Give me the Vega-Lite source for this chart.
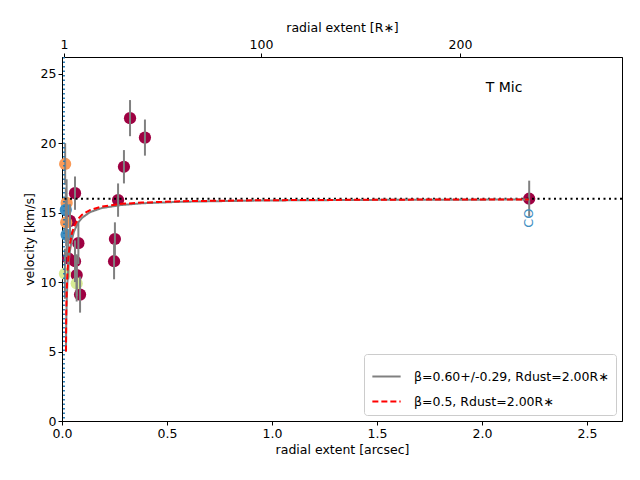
{
  "$schema": "https://vega.github.io/schema/vega-lite/v6.json",
  "width": 560,
  "height": 364,
  "autosize": "none",
  "padding": {"left": 62, "top": 57, "right": 18, "bottom": 59},
  "background": "white",
  "config": {
    "font": "DejaVu Sans",
    "view": {"stroke": "black", "strokeWidth": 1},
    "axis": {
      "domainColor": "black", "tickColor": "black", "labelColor": "black", "titleColor": "black",
      "labelFontSize": 12.5, "titleFontSize": 12.5, "titleFontWeight": "normal", "tickSize": 4,
      "grid": false, "labelFont": "DejaVu Sans", "titleFont": "DejaVu Sans", "labelFlush": false
    },
    "legend": {"labelFont": "DejaVu Sans", "labelFontSize": 12.5}
  },
  "datasets": {
    "obs": [
      {"a": 0.324, "v": 21.8, "lo": 20.5, "hi": 23.1, "grp": "m"},
      {"a": 0.395, "v": 20.4, "lo": 19.1, "hi": 21.7, "grp": "m"},
      {"a": 0.295, "v": 18.3, "lo": 17.1, "hi": 19.5, "grp": "m"},
      {"a": 0.267, "v": 15.9, "lo": 14.7, "hi": 17.1, "grp": "m"},
      {"a": 0.252, "v": 13.1, "lo": 11.9, "hi": 14.3, "grp": "m"},
      {"a": 0.248, "v": 11.5, "lo": 10.2, "hi": 12.8, "grp": "m"},
      {"a": 0.062, "v": 16.4, "lo": 15.2, "hi": 17.6, "grp": "m"},
      {"a": 2.225, "v": 16.0, "lo": 14.7, "hi": 17.3, "grp": "m"},
      {"a": 0.038, "v": 14.4, "lo": 13.2, "hi": 15.6, "grp": "m"},
      {"a": 0.078, "v": 12.8, "lo": 11.3, "hi": 14.3, "grp": "m"},
      {"a": 0.030, "v": 11.7, "lo": 10.2, "hi": 13.2, "grp": "m"},
      {"a": 0.062, "v": 11.5, "lo": 10.0, "hi": 13.0, "grp": "m"},
      {"a": 0.070, "v": 10.5, "lo": 9.0, "hi": 12.0, "grp": "m"},
      {"a": 0.086, "v": 9.1, "lo": 7.8, "hi": 10.4, "grp": "m"},
      {"a": 0.015, "v": 18.5, "lo": 17.0, "hi": 20.0, "grp": "o"},
      {"a": 0.022, "v": 15.7, "lo": 14.0, "hi": 17.4, "grp": "o"},
      {"a": 0.020, "v": 14.3, "lo": 12.6, "hi": 16.0, "grp": "o"},
      {"a": 0.018, "v": 15.2, "lo": 13.6, "hi": 16.8, "grp": "b"},
      {"a": 0.022, "v": 13.4, "lo": 11.8, "hi": 15.0, "grp": "b"},
      {"a": 0.014, "v": 10.6, "lo": 8.8, "hi": 12.4, "grp": "g"},
      {"a": 0.070, "v": 9.9, "lo": 8.6, "hi": 11.2, "grp": "g"}
    ],
    "curves": [
      {"a": 0.019, "v": 5.0, "model": "fit"},
      {"a": 0.01995, "v": 6.77, "model": "fit"},
      {"a": 0.0209, "v": 7.61, "model": "fit"},
      {"a": 0.0228, "v": 8.75, "model": "fit"},
      {"a": 0.02565, "v": 9.89, "model": "fit"},
      {"a": 0.0285, "v": 10.69, "model": "fit"},
      {"a": 0.03325, "v": 11.62, "model": "fit"},
      {"a": 0.038, "v": 12.26, "model": "fit"},
      {"a": 0.0475, "v": 13.10, "model": "fit"},
      {"a": 0.057, "v": 13.63, "model": "fit"},
      {"a": 0.076, "v": 14.26, "model": "fit"},
      {"a": 0.095, "v": 14.62, "model": "fit"},
      {"a": 0.133, "v": 15.03, "model": "fit"},
      {"a": 0.19, "v": 15.33, "model": "fit"},
      {"a": 0.285, "v": 15.55, "model": "fit"},
      {"a": 0.38, "v": 15.67, "model": "fit"},
      {"a": 0.57, "v": 15.78, "model": "fit"},
      {"a": 0.95, "v": 15.87, "model": "fit"},
      {"a": 1.52, "v": 15.92, "model": "fit"},
      {"a": 2.223, "v": 15.94, "model": "fit"},
      {"a": 0.019, "v": 5.0, "model": "half"},
      {"a": 0.01995, "v": 7.40, "model": "half"},
      {"a": 0.0209, "v": 8.32, "model": "half"},
      {"a": 0.0228, "v": 9.49, "model": "half"},
      {"a": 0.02565, "v": 10.60, "model": "half"},
      {"a": 0.0285, "v": 11.35, "model": "half"},
      {"a": 0.03325, "v": 12.20, "model": "half"},
      {"a": 0.038, "v": 12.78, "model": "half"},
      {"a": 0.0475, "v": 13.52, "model": "half"},
      {"a": 0.057, "v": 13.98, "model": "half"},
      {"a": 0.076, "v": 14.53, "model": "half"},
      {"a": 0.095, "v": 14.84, "model": "half"},
      {"a": 0.133, "v": 15.18, "model": "half"},
      {"a": 0.19, "v": 15.44, "model": "half"},
      {"a": 0.285, "v": 15.63, "model": "half"},
      {"a": 0.38, "v": 15.72, "model": "half"},
      {"a": 0.57, "v": 15.82, "model": "half"},
      {"a": 0.95, "v": 15.89, "model": "half"},
      {"a": 1.52, "v": 15.93, "model": "half"},
      {"a": 2.223, "v": 15.95, "model": "half"}
    ],
    "notes": [
      {"a": 2.225, "v": 14.6, "label": "CO"},
      {"a": 2.105, "v": 24.0, "label": "T Mic"}
    ],
    "stellar": [{"r": 234}]
  },
  "layer": [
    {
      "layer": [
        {
          "data": {"name": "obs"},
          "mark": {"type": "circle", "size": 150, "opacity": 1, "fillOpacity": 1},
          "encoding": {
            "x": {"field": "a", "type": "quantitative", "scale": {"domain": [0, 2.667], "nice": false},
                  "axis": {"title": "radial extent [arcsec]", "values": [0, 0.5, 1, 1.5, 2, 2.5], "format": ".1f"}},
            "y": {"field": "v", "type": "quantitative", "scale": {"domain": [0, 26.2], "nice": false},
                  "axis": {"title": "velocity [km/s]", "values": [0, 5, 10, 15, 20, 25]}},
            "fill": {"field": "grp", "type": "nominal", "legend": null,
                      "scale": {"domain": ["m", "o", "b", "g"], "range": ["#9e0142", "#f99a58", "#3f8fc2", "#d8ec94"]}}
          }
        },
        {
          "data": {"name": "obs"},
          "mark": {"type": "rule", "color": "#808080", "strokeWidth": 2},
          "encoding": {
            "x": {"field": "a", "type": "quantitative"},
            "y": {"field": "lo", "type": "quantitative"},
            "y2": {"field": "hi"}
          }
        },
        {
          "data": {"values": [{"a": 0.0095}]},
          "mark": {"type": "rule", "color": "#1f77b4", "strokeWidth": 1.8, "strokeDash": [1.5, 3]},
          "encoding": {"x": {"field": "a", "type": "quantitative"}}
        },
        {
          "data": {"values": [{"v": 16.0}]},
          "mark": {"type": "rule", "color": "black", "strokeWidth": 2, "strokeDash": [2, 3.5]},
          "encoding": {"y": {"field": "v", "type": "quantitative"}}
        },
        {
          "data": {"name": "curves"},
          "mark": {"type": "line", "strokeWidth": 2},
          "encoding": {
            "x": {"field": "a", "type": "quantitative"},
            "y": {"field": "v", "type": "quantitative"},
            "color": {"field": "model", "type": "nominal", "title": null,
                      "scale": {"domain": ["fit", "half"], "range": ["#808080", "#ff0000"]},
                      "legend": {
                        "orient": "bottom-right", "offset": 6, "labelExpr": "datum.value == 'fit' ? 'β=0.60+/-0.29, Rdust=2.00R∗' : 'β=0.5, Rdust=2.00R∗'",
                        "symbolType": "stroke", "symbolSize": 800, "symbolStrokeWidth": 2,
                        "strokeColor": "#cccccc", "fillColor": "white", "cornerRadius": 3, "padding": 7,
                        "rowPadding": 3, "labelFontSize": 12.5, "labelOffset": 12, "labelLimit": 400
                      }},
            "strokeDash": {"field": "model", "type": "nominal", "title": null,
                           "scale": {"domain": ["fit", "half"], "range": [[1, 0], [6, 3]]},
                           "legend": {
                             "orient": "bottom-right", "offset": 6, "labelExpr": "datum.value == 'fit' ? 'β=0.60+/-0.29, Rdust=2.00R∗' : 'β=0.5, Rdust=2.00R∗'",
                             "symbolType": "stroke", "symbolSize": 800, "symbolStrokeWidth": 2,
                             "strokeColor": "#cccccc", "fillColor": "white", "cornerRadius": 3, "padding": 7,
                             "rowPadding": 3, "labelFontSize": 12.5, "labelOffset": 12, "labelLimit": 400
                           }}
          }
        },
        {
          "data": {"name": "notes"},
          "transform": [{"filter": "datum.label == 'CO'"}],
          "mark": {"type": "text", "angle": 270, "align": "center", "baseline": "middle", "fontSize": 13, "color": "#3f8fc2"},
          "encoding": {
            "x": {"field": "a", "type": "quantitative"},
            "y": {"field": "v", "type": "quantitative"},
            "text": {"field": "label"}
          }
        },
        {
          "data": {"name": "notes"},
          "transform": [{"filter": "datum.label == 'T Mic'"}],
          "mark": {"type": "text", "align": "center", "baseline": "middle", "fontSize": 14, "color": "black"},
          "encoding": {
            "x": {"field": "a", "type": "quantitative"},
            "y": {"field": "v", "type": "quantitative"},
            "text": {"field": "label"}
          }
        }
      ]
    },
    {
      "data": {"name": "stellar"},
      "mark": {"type": "point", "opacity": 0},
      "encoding": {
        "x": {"field": "r", "type": "quantitative", "scale": {"domain": [0, 281.4], "nice": false},
              "axis": {"orient": "top", "title": "radial extent [R∗]", "values": [1, 100, 200]}}
      }
    }
  ],
  "resolve": {"scale": {"x": "independent"}}
}
